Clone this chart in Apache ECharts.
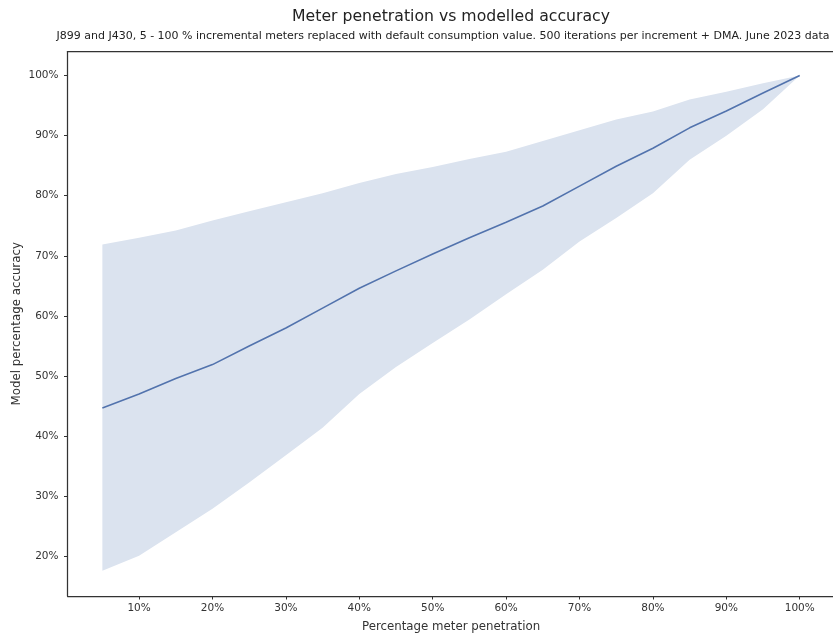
<!DOCTYPE html>
<html>
<head>
<meta charset="utf-8">
<script src="https://cdn.jsdelivr.net/npm/echarts@6/dist/echarts.min.js"></script>
<style>
html,body{margin:0;padding:0;background:#ffffff;}
#chart{width:833px;height:637px;}
</style>
</head>
<body>
<div id="chart"></div>
<script>
// Percentage meter penetration (x)
const penetration = [5, 10, 15, 20, 25, 30, 35, 40, 45, 50, 55, 60, 65, 70, 75, 80, 85, 90, 95, 100];
// Mean model percentage accuracy
const meanAccuracy = [44.7, 47.0, 49.6, 51.9, 55.0, 58.0, 61.3, 64.6, 67.5, 70.3, 73.0, 75.6, 78.3, 81.6, 84.9, 87.9, 91.3, 94.1, 97.1, 100];
// Lower edge of the band
const lowerAccuracy = [17.6, 20.1, 24.0, 27.9, 32.3, 36.8, 41.4, 47.0, 51.5, 55.5, 59.4, 63.6, 67.7, 72.4, 76.3, 80.4, 86.0, 90.0, 94.4, 100];
// Upper edge of the band
const upperAccuracy = [71.9, 73.0, 74.2, 75.9, 77.4, 78.9, 80.4, 82.1, 83.6, 84.8, 86.1, 87.3, 89.1, 90.9, 92.7, 94.0, 96.0, 97.3, 98.7, 100];
// Tick labels
const xTicks = [10, 20, 30, 40, 50, 60, 70, 80, 90, 100];
const yTicks = [20, 30, 40, 50, 60, 70, 80, 90, 100];

const titleText = 'Meter penetration vs modelled accuracy';
const subtitleText = 'J899 and J430, 5 - 100 % incremental meters replaced with default consumption value. 500 iterations per increment + DMA. June 2023 data';

const meanData = penetration.map((x, i) => [x, meanAccuracy[i]]);
const bandData = [[0]]; // single polygon item built from the band arrays

const FONT = 'DejaVu Sans';
const AXIS_COLOR = '#333333';

function renderBand(params, api) {
  const pts = [];
  for (let i = 0; i < penetration.length; i++) {
    pts.push(api.coord([penetration[i], upperAccuracy[i]]));
  }
  for (let i = penetration.length - 1; i >= 0; i--) {
    pts.push(api.coord([penetration[i], lowerAccuracy[i]]));
  }
  return {
    type: 'polygon',
    shape: {points: pts},
    style: {fill: '#dbe3ef', stroke: null}
  };
}

const chart = echarts.init(document.getElementById('chart'), null, {renderer: 'canvas'});
chart.setOption({
  backgroundColor: '#ffffff',
  animation: false,
  title: [
    {
      text: titleText,
      left: 451, top: 9, textAlign: 'center', padding: 0,
      textStyle: {fontFamily: FONT, fontSize: 15.7, fontWeight: 'normal', color: '#222222'}
    },
    {
      text: subtitleText,
      left: 443, top: 31, textAlign: 'center', padding: 0,
      textStyle: {fontFamily: FONT, fontSize: 11, fontWeight: 'normal', color: '#222222'}
    }
  ],
  grid: {left: 67.5, right: -1.6, top: 51.5, bottom: 41, containLabel: false, outerBoundsMode: 'none'},
  xAxis: [
    {
      type: 'value', min: 0.25, max: 104.75,
      name: 'Percentage meter penetration', nameLocation: 'middle', nameGap: 25, nameMoveOverlap: false,
      nameTextStyle: {fontFamily: FONT, fontSize: 11.8, color: AXIS_COLOR},
      splitLine: {show: false},
      axisLine: {show: true, lineStyle: {color: AXIS_COLOR, width: 1.25}},
      axisTick: {show: true, length: 3.5, customValues: xTicks, lineStyle: {color: AXIS_COLOR, width: 1}},
      axisLabel: {customValues: xTicks, margin: 7, fontFamily: FONT, fontSize: 10.5, color: AXIS_COLOR, formatter: '{value}%'}
    },
    {
      type: 'value', min: 0.25, max: 104.75, position: 'top',
      splitLine: {show: false},
      axisLine: {show: true, lineStyle: {color: AXIS_COLOR, width: 1.25}},
      axisTick: {show: false}, axisLabel: {show: false}
    }
  ],
  yAxis: {
    type: 'value', min: 13.4, max: 104.0,
    name: 'Model percentage accuracy', nameLocation: 'middle', nameGap: 45, nameMoveOverlap: false,
    nameTextStyle: {fontFamily: FONT, fontSize: 11.8, color: AXIS_COLOR},
    splitLine: {show: false},
    axisLine: {show: true, lineStyle: {color: AXIS_COLOR, width: 1.25}},
    axisTick: {show: true, length: 3.5, customValues: yTicks, lineStyle: {color: AXIS_COLOR, width: 1}},
    axisLabel: {customValues: yTicks, margin: 9, fontFamily: FONT, fontSize: 10.5, color: AXIS_COLOR, formatter: '{value}%'}
  },
  series: [
    {
      type: 'custom', name: 'band', data: bandData,
      renderItem: renderBand, silent: true, z: 1, clip: true
    },
    {
      type: 'line', name: 'mean', data: meanData,
      symbol: 'none', lineStyle: {color: '#5273ad', width: 1.6}, z: 3
    }
  ]
});
</script>
</body>
</html>
